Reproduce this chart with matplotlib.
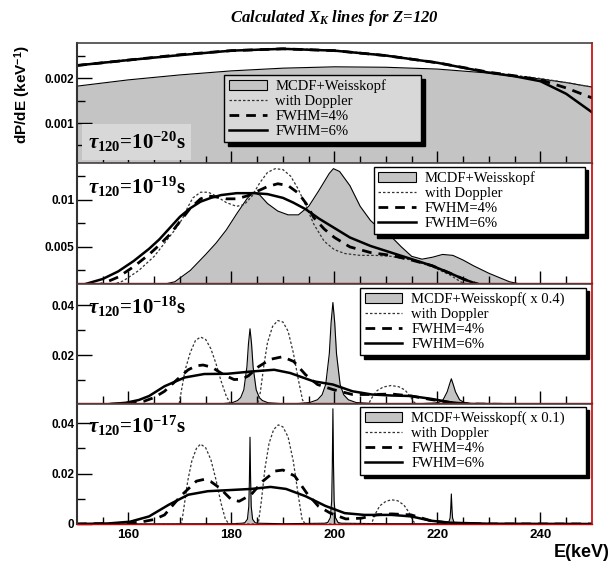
import numpy as np
import matplotlib
matplotlib.use("Agg")
import matplotlib.pyplot as plt
from matplotlib.patches import Patch
from matplotlib.lines import Line2D

plt.rcParams['mathtext.fontset'] = 'custom'
plt.rcParams['mathtext.rm'] = 'Liberation Serif:bold'
plt.rcParams['mathtext.it'] = 'Liberation Serif:italic:bold'
plt.rcParams['mathtext.bf'] = 'Liberation Serif:bold'
plt.rcParams['mathtext.sf'] = 'Liberation Sans:bold'

# ---- panel 1 : tau = 1e-20 s ----
e1 = [150, 160, 170, 180, 190, 200, 210, 220, 230, 235, 240, 245, 250]
p1_fill = [0.00182, 0.00196, 0.00207, 0.00216, 0.00222, 0.00225, 0.00224, 0.00220, 0.00211, 0.00204, 0.00198, 0.00190, 0.00180]
p1_dopp = [0.00229, 0.00241, 0.00252, 0.00261, 0.00266, 0.00262, 0.00251, 0.00234, 0.00213, 0.00206, 0.00199, 0.00190, 0.00180]
p1_f4 = [0.00228, 0.00240, 0.00252, 0.00261, 0.00265, 0.00261, 0.00250, 0.00234, 0.00213, 0.00205, 0.00196, 0.00178, 0.00156]
p1_f6 = [0.00228, 0.00240, 0.00251, 0.00261, 0.00265, 0.00261, 0.00250, 0.00234, 0.00212, 0.00204, 0.00193, 0.00165, 0.00124]

# ---- panel 2 : tau = 1e-19 s ----
e2_fill = [150, 160, 165, 169, 172, 175, 177, 179, 181, 183, 184.2, 185.5, 187, 189, 191, 193, 195, 197, 199, 199.8,
           201, 203, 205, 207, 209, 211, 213, 215, 217, 219, 221, 223, 225, 227, 230, 234, 240, 250]
p2_fill = [0.0002, 0.0005, 0.0008, 0.0013, 0.0025, 0.0042, 0.0054, 0.0068, 0.0085, 0.0101, 0.0108, 0.0105, 0.0096, 0.0088,
           0.0084, 0.0084, 0.0093, 0.0110, 0.0128, 0.0133, 0.0130, 0.0115, 0.0093, 0.0078, 0.0068, 0.0061, 0.0050, 0.0040,
           0.0037, 0.0039, 0.0042, 0.0041, 0.0036, 0.0030, 0.0022, 0.0013, 0.0006, 0.0002]
e2_dopp = [150, 156, 159, 162, 165, 167, 169, 170.5, 171.5, 172.5, 174, 175.5, 177, 179, 181, 182.5, 184, 185.5, 187,
           188.5, 190, 191.5, 193, 194.5, 196, 198, 200, 202, 205, 208, 211, 215, 219, 222.5, 224.5, 227, 250]
p2_dopp = [0.0003, 0.0008, 0.0014, 0.0025, 0.0040, 0.0054, 0.0068, 0.0080, 0.0092, 0.0102, 0.0108, 0.0108, 0.0104,
           0.0097, 0.0093, 0.0095, 0.0104, 0.0118, 0.0129, 0.0133, 0.0132, 0.0125, 0.0111, 0.0093, 0.0074, 0.0056,
           0.0047, 0.0043, 0.0041, 0.0041, 0.0040, 0.0036, 0.0029, 0.0020, 0.0013, 0.0008, 0.0]
e2_f4 = [150, 155, 158, 161, 164, 166, 168, 170, 172, 174, 175.5, 177, 179, 181, 183, 185, 187, 189, 191, 193, 194.5,
         196, 198, 200, 203, 207, 211, 215, 219, 222.5, 225, 227, 230, 250]
p2_f4 = [0.0005, 0.0011, 0.0018, 0.0029, 0.0042, 0.0052, 0.0063, 0.0077, 0.0091, 0.0101, 0.0104, 0.0103, 0.0101,
         0.0101, 0.0104, 0.0109, 0.0114, 0.0117, 0.0115, 0.0107, 0.0096, 0.0081, 0.0069, 0.0060, 0.0050, 0.0044,
         0.0041, 0.0036, 0.0030, 0.0022, 0.0016, 0.0012, 0.0007, 0.0]
e2_f6 = [150, 152.5, 155, 158, 161, 164, 166, 168, 170, 172, 174, 176, 178, 181, 184.5, 187, 190, 192, 194.4, 197,
         199.7, 203, 207, 211, 215, 219, 222.5, 225, 227, 230, 240, 250]
p2_f6 = [0.0008, 0.0012, 0.0016, 0.0024, 0.0035, 0.0048, 0.0058, 0.0070, 0.0082, 0.0091, 0.0098, 0.0102, 0.0105,
         0.0107, 0.0107, 0.0106, 0.0102, 0.0097, 0.0090, 0.0080, 0.0071, 0.0060, 0.0051, 0.0044, 0.0037, 0.0030,
         0.0022, 0.0016, 0.0012, 0.0007, 0.0002, 0.0]

# ---- panel 3 : tau = 1e-18 s (MCDF x0.4) ----
e3_fill = [150, 170, 178, 180.1, 181.2, 181.8, 182.4, 183.0, 183.3, 183.6, 183.9, 184.2, 184.8, 185.4, 186.0, 187.1,
           190, 193, 195.2, 196.7, 197.6, 198.3, 199.0, 199.35, 199.7, 200.05, 200.4, 201.1, 201.8, 202.7, 204.2,
           208, 215, 219.5, 220.3, 221.1, 221.9, 222.3, 222.7, 223.1, 223.5, 224.3, 225.1, 226.5, 232, 250]
p3_fill = [0.0002, 0.0004, 0.0005, 0.0009, 0.0018, 0.0030, 0.0061, 0.0153, 0.0245, 0.0305, 0.0245, 0.0153, 0.0061,
           0.0030, 0.0018, 0.0009, 0.0005, 0.0006, 0.0010, 0.0021, 0.0041, 0.0082, 0.0205, 0.0330, 0.0410, 0.0330,
           0.0205, 0.0082, 0.0041, 0.0021, 0.0010, 0.0005, 0.0004, 0.0008, 0.0011, 0.0021, 0.0053, 0.0080, 0.0105,
           0.0080, 0.0053, 0.0021, 0.0011, 0.0006, 0.0002, 0.0001]
e3_dopp = [150, 169.8, 170.3, 171, 172, 173, 174, 175, 176, 177, 178, 179, 179.8, 180.5, 185, 185.6, 186.3, 187, 188,
           189, 190, 191, 192, 193, 193.8, 194.5, 206.5, 207.3, 208.3, 209.5, 211, 212.5, 213.7, 214.7, 215.5, 216.5, 250]
p3_dopp = [0, 0, 0.006, 0.014, 0.021, 0.0258, 0.0272, 0.0262, 0.0225, 0.0165, 0.0095, 0.0035, 0.0005, 0, 0, 0.005,
           0.016, 0.025, 0.0315, 0.0338, 0.0332, 0.0295, 0.021, 0.010, 0.002, 0, 0, 0.003, 0.0058, 0.0072, 0.0078,
           0.0073, 0.0060, 0.0035, 0.001, 0, 0]
e3_f4 = [150, 160, 163, 165, 167, 169.4, 171.6, 173.2, 174.5, 176.2, 178.5, 180.5, 182, 183.3, 185.3, 187.6, 189.9,
         192.1, 194.4, 196.7, 199.7, 203.5, 207.3, 211.1, 214.9, 218.7, 222.5, 226, 250]
p3_f4 = [0, 0.0005, 0.0015, 0.0030, 0.0055, 0.0101, 0.0141, 0.0157, 0.0160, 0.0151, 0.0121, 0.0102, 0.0103, 0.0117,
         0.0154, 0.0183, 0.0193, 0.0174, 0.0121, 0.0082, 0.0062, 0.0042, 0.0042, 0.0044, 0.0036, 0.0022, 0.0010,
         0.0004, 0]
e3_f6 = [150, 156, 159.5, 162, 164, 167, 170.9, 174.7, 179.2, 183.8, 188.3, 191.4, 195.9, 199.7, 203.5, 207.3, 211.1,
         214.9, 218.7, 222.5, 226, 250]
p3_f6 = [0, 0.0003, 0.0009, 0.0020, 0.0036, 0.0075, 0.0110, 0.0124, 0.0125, 0.0134, 0.0141, 0.0128, 0.0095, 0.0082,
         0.0055, 0.0042, 0.0038, 0.0036, 0.0025, 0.0011, 0.0004, 0]

# ---- panel 4 : tau = 1e-17 s (MCDF x0.1) ----
e4_fill = [150, 180, 182.0, 182.6, 183.1, 183.36, 183.48, 183.6, 183.72, 183.84, 184.1, 184.6, 185.2, 190, 198.1,
           198.7, 199.2, 199.46, 199.58, 199.7, 199.82, 199.94, 200.2, 200.7, 201.3, 210, 221.6, 222.2, 222.46,
           222.58, 222.7, 222.82, 222.94, 223.2, 223.8, 250]
p4_fill = [0, 0.0001, 0.0003, 0.0005, 0.0019, 0.0069, 0.0172, 0.0344, 0.0172, 0.0069, 0.0019, 0.0005, 0.0003, 0.0001,
           0.0003, 0.0006, 0.0025, 0.0091, 0.0228, 0.0457, 0.0228, 0.0091, 0.0025, 0.0006, 0.0003, 0.0001, 0.0001,
           0.0007, 0.0024, 0.0060, 0.0119, 0.0060, 0.0024, 0.0007, 0.0001, 0]
e4_dopp = [150, 170.3, 170.8, 171.5, 172.3, 173.2, 174, 175, 176, 177, 178, 178.8, 179.5, 185.2, 185.8, 186.5, 187.3,
           188.2, 189.1, 190, 191, 192, 193, 193.7, 194.3, 207.2, 207.8, 208.8, 210, 211.1, 212.3, 213.5, 214.5,
           215.3, 216, 250]
p4_dopp = [0, 0, 0.007, 0.017, 0.025, 0.030, 0.0317, 0.0302, 0.0255, 0.0175, 0.008, 0.002, 0, 0, 0.009, 0.022, 0.032,
           0.0375, 0.0393, 0.0385, 0.0345, 0.025, 0.011, 0.002, 0, 0, 0.0035, 0.0072, 0.0090, 0.0096, 0.0092, 0.0075,
           0.0045, 0.001, 0, 0]
e4_f4 = [150, 160, 162.5, 165, 167, 170.1, 173.2, 174.7, 176, 177.7, 180, 181.5, 183.8, 186.1, 188.5, 190, 192.3,
         194.6, 196.9, 199.2, 202.2, 205.2, 208.2, 211.1, 214.9, 218.7, 222.5, 230, 250]
p4_f4 = [0, 0.0003, 0.0008, 0.0018, 0.0036, 0.011, 0.017, 0.0177, 0.0168, 0.0143, 0.0096, 0.0090, 0.0116, 0.017,
         0.021, 0.0214, 0.019, 0.0123, 0.007, 0.0043, 0.002, 0.0023, 0.0036, 0.004, 0.0036, 0.0013, 0.0003, 0, 0]
e4_f6 = [150, 156, 160.3, 164, 167.8, 171.6, 175.4, 179.2, 183.8, 187.6, 190.6, 194.4, 198.2, 202, 205.8, 211.1,
         214.9, 218.7, 222.5, 230, 250]
p4_f6 = [0, 0.0002, 0.0009, 0.003, 0.0076, 0.0116, 0.013, 0.0134, 0.0139, 0.0147, 0.0139, 0.011, 0.0072, 0.0043,
         0.0036, 0.0036, 0.003, 0.0013, 0.0005, 0.0001, 0]

tau_labels = [r"$\tau_{\mathrm{120}}$=10$^{\mathrm{-20}}$s", r"$\tau_{\mathrm{120}}$=10$^{\mathrm{-19}}$s",
              r"$\tau_{\mathrm{120}}$=10$^{\mathrm{-18}}$s", r"$\tau_{\mathrm{120}}$=10$^{\mathrm{-17}}$s"]
fill_names = ["MCDF+Weisskopf", "MCDF+Weisskopf", "MCDF+Weisskopf( x 0.4)", "MCDF+Weisskopf( x 0.1)"]
ylims = [(0.00011, 0.00278), (0.00117, 0.0139), (0.0008, 0.0484), (0.0, 0.0476)]
ymajor = [[0.001, 0.002], [0.005, 0.01], [0.02, 0.04], [0, 0.02, 0.04]]
ymajor_lab = [["0.001", "0.002"], ["0.005", "0.01"], ["0.02", "0.04"], ["0", "0.02", "0.04"]]
yminor = [[0.0005, 0.0015, 0.0025], [0.0025, 0.0075, 0.0125], [0.01, 0.03], [0.01, 0.03]]

panels = [
    (e1, p1_fill, e1, p1_dopp, e1, p1_f4, e1, p1_f6),
    (e2_fill, p2_fill, e2_dopp, p2_dopp, e2_f4, p2_f4, e2_f6, p2_f6),
    (e3_fill, p3_fill, e3_dopp, p3_dopp, e3_f4, p3_f4, e3_f6, p3_f6),
    (e4_fill, p4_fill, e4_dopp, p4_dopp, e4_f4, p4_f4, e4_f6, p4_f6),
]

# axes boxes in figure fraction (left, bottom, width, height)
boxes = [(0.1256, 0.7115, 0.840, 0.2124), (0.1256, 0.4991, 0.840, 0.2124),
         (0.1256, 0.2867, 0.840, 0.2106), (0.1256, 0.0726, 0.840, 0.2124)]
leg_anchor = [(0.286, 0.15, 0.383, 0.583), (0.576, 0.425, 0.41, 0.542),
              (0.55, 0.34, 0.438, 0.63), (0.55, 0.37, 0.438, 0.605)]
tau_pos = [(0.021, 0.175), (0.021, 0.80), (0.021, 0.807), (0.021, 0.817)]

fill_col = '#c4c4c4'
fig = plt.figure(figsize=(6.13, 5.65), dpi=100)

for i in range(4):
    ax = fig.add_axes(boxes[i])
    ef, yf, ed, yd, e4_, y4_, e6_, y6_ = panels[i]
    ax.fill_between(ef, yf, 0, color=fill_col, lw=0)
    ax.plot(ef, yf, color='k', lw=0.8)
    ax.plot(ed, yd, color='#333333', lw=0.9, ls=(0, (2, 1.6)))
    ax.plot(e4_, y4_, color='k', lw=2.0, ls=(0, (3.5, 2.5)))
    ax.plot(e6_, y6_, color='k', lw=1.8)
    ax.set_xlim(150, 250)
    ax.set_ylim(*ylims[i])
    ax.set_yticks(ymajor[i])
    ax.set_yticklabels(ymajor_lab[i], fontsize=8.5, fontweight='bold', family='Liberation Sans')
    ax.set_yticks(yminor[i], minor=True)
    ax.set_xticks([160, 180, 200, 220, 240])
    ax.set_xticks(np.arange(155, 250, 5), minor=True)
    ax.tick_params(axis='y', which='major', direction='in', length=11, width=1, pad=2)
    ax.tick_params(axis='y', which='minor', direction='in', length=6, width=1)
    ax.tick_params(axis='x', which='major', direction='in', length=9, width=1)
    ax.tick_params(axis='x', which='minor', direction='in', length=5, width=1)
    if i < 3:
        ax.set_xticklabels([])
    else:
        ax.set_xticklabels(['160', '180', '200', '220', '240'], fontsize=9.5, fontweight='bold',
                           family='Liberation Sans')
    ax.spines['left'].set_color('#333333')
    ax.spines['left'].set_linewidth(1.5)
    ax.spines['top'].set_color('#444444')
    ax.spines['top'].set_linewidth(1.2)
    ax.spines['right'].set_color('#cc0000')
    ax.spines['right'].set_linewidth(1.2)
    ax.spines['bottom'].set_color('#cc0000')
    ax.spines['bottom'].set_linewidth(1.0)

    tbox = None
    if i == 0:
        tbox = dict(facecolor='#d8d8d8', edgecolor='none', pad=4)
    ax.text(tau_pos[i][0], tau_pos[i][1], tau_labels[i], transform=ax.transAxes, fontsize=15,
            fontweight='bold', family='Liberation Serif', va='center', ha='left', bbox=tbox)

    handles = [Patch(facecolor=fill_col, edgecolor='k', lw=0.8),
               Line2D([], [], color='#333333', lw=0.9, ls=(0, (2, 1.6))),
               Line2D([], [], color='k', lw=2.0, ls=(0, (3.5, 2.5))),
               Line2D([], [], color='k', lw=1.8)]
    names = [fill_names[i], "with Doppler", "FWHM=4%", "FWHM=6%"]
    leg = ax.legend(handles, names, loc='upper left', bbox_to_anchor=leg_anchor[i], mode='expand',
                    borderaxespad=0, prop={'family': 'Liberation Serif', 'size': 10.5},
                    handlelength=2.6, handletextpad=0.6, labelspacing=0.12, borderpad=0.3,
                    fancybox=False, edgecolor='k', facecolor='#d8d8d8' if i == 0 else 'white',
                    framealpha=1, shadow={'ox': 2.5, 'oy': -2.5, 'color': 'k', 'alpha': 1})
    leg.get_frame().set_linewidth(1.0)

fig.text(0.545, 0.968, r"Calculated X$_{K}$ lines for Z=120", ha='center', va='center', fontsize=12,
         fontweight='bold', fontstyle='italic', family='Liberation Serif')
fig.text(0.036, 0.92, r"dP/dE (keV$^{\mathsf{-1}}$)", rotation=90, ha='center', va='top', fontsize=11,
         fontweight='bold', family='Liberation Sans')
fig.text(0.995, 0.023, "E(keV)", ha='right', va='center', fontsize=13, fontweight='bold',
         family='Liberation Sans')

fig.savefig('out.png', dpi=100)
